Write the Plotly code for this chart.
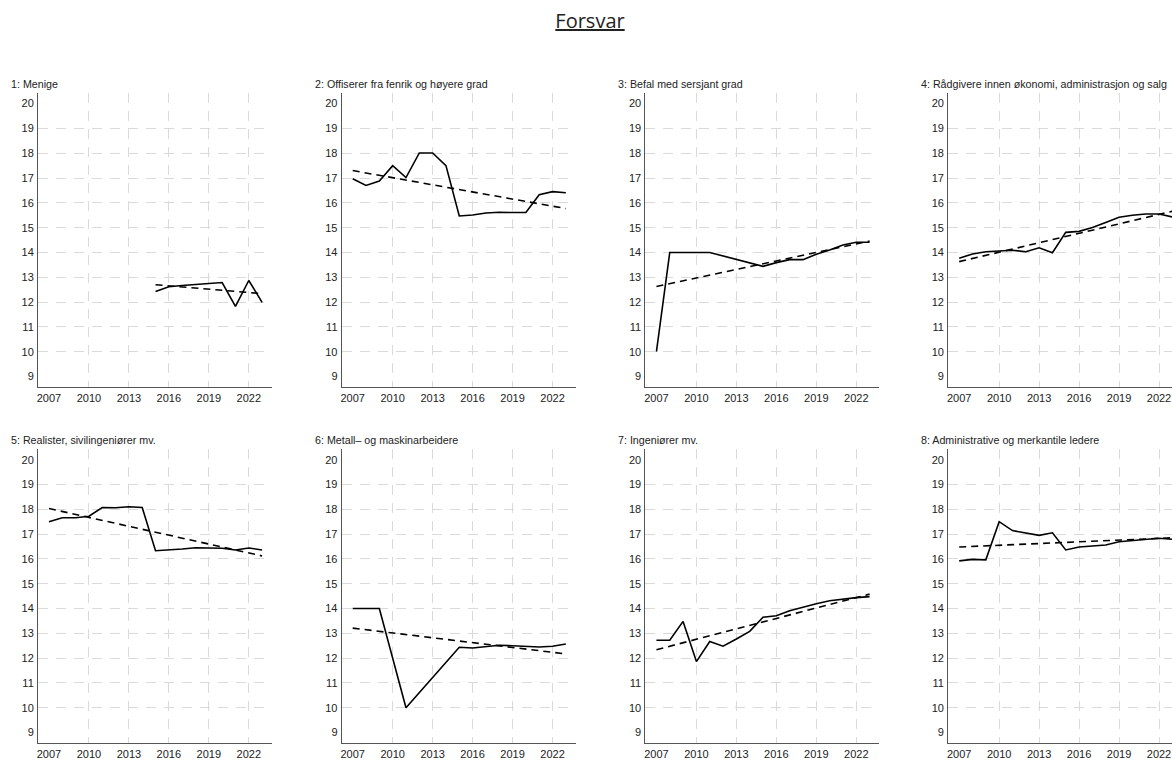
import plotly.graph_objects as go

# ---------------- data ----------------
titles = [
    "1: Menige",
    "2: Offiserer fra fenrik og høyere grad",
    "3: Befal med sersjant grad",
    "4: Rådgivere innen økonomi, administrasjon og salg",
    "5: Realister, sivilingeniører mv.",
    "6: Metall\u2013 og maskinarbeidere",
    "7: Ingeniører mv.",
    "8: Administrative og merkantile ledere",
]

years_1 = [2015, 2016, 2017, 2018, 2019, 2020, 2021, 2022, 2023]
vals_1 = [12.43, 12.62, 12.67, 12.71, 12.74, 12.79, 11.83, 12.87, 11.99]

years_2 = list(range(2007, 2024))
vals_2 = [16.97, 16.70, 16.88, 17.50, 17.02, 18.01, 18.01, 17.50, 15.47,
          15.51, 15.59, 15.62, 15.61, 15.61, 16.33, 16.45, 16.41]

years_3 = [2007, 2008, 2011, 2015, 2016, 2017, 2018, 2019, 2020, 2021, 2022, 2023]
vals_3 = [10.0, 14.0, 14.0, 13.44, 13.59, 13.71, 13.71, 13.93, 14.10, 14.30, 14.41, 14.41]

years_4 = list(range(2007, 2024))
vals_4 = [13.77, 13.94, 14.03, 14.06, 14.09, 14.03, 14.19, 13.99, 14.81,
          14.85, 15.01, 15.21, 15.42, 15.50, 15.55, 15.55, 15.43]

years_5 = list(range(2007, 2024))
vals_5 = [17.50, 17.66, 17.66, 17.72, 18.07, 18.06, 18.10, 18.07, 16.33,
          16.36, 16.40, 16.45, 16.45, 16.43, 16.36, 16.44, 16.36]

years_6 = [2007, 2009, 2011, 2015, 2016, 2017, 2018, 2019, 2020, 2021, 2022, 2023]
vals_6 = [14.0, 14.0, 10.0, 12.44, 12.41, 12.48, 12.52, 12.50, 12.48, 12.45, 12.48, 12.57]

years_7 = list(range(2007, 2024))
vals_7 = [12.72, 12.72, 13.48, 11.86, 12.67, 12.48, 12.77, 13.08, 13.65,
          13.71, 13.91, 14.06, 14.19, 14.31, 14.38, 14.44, 14.48]

years_8 = list(range(2007, 2024))
vals_8 = [15.92, 15.98, 15.96, 17.50, 17.14, 17.05, 16.95, 17.05, 16.36,
          16.48, 16.52, 16.56, 16.69, 16.73, 16.76, 16.83, 16.79]

# dashed trend lines: start year, end year, start value, end value
trend_x0 = [2015, 2007, 2007, 2007, 2007, 2007, 2007, 2007]
trend_x1 = [2023, 2023, 2023, 2023, 2023, 2023, 2023, 2023]
trend_y0 = [12.70, 17.30, 12.63, 13.63, 18.03, 13.21, 12.34, 16.48]
trend_y1 = [12.34, 15.77, 14.46, 15.66, 16.12, 12.17, 14.58, 16.85]

x_ticks = [2007, 2010, 2013, 2016, 2019, 2022]
x_grid = [2010, 2013, 2016, 2019, 2022]
y_ticks = list(range(9, 21))
y_grid = list(range(10, 20))

series_x = [years_1, years_2, years_3, years_4, years_5, years_6, years_7, years_8]
series_y = [vals_1, vals_2, vals_3, vals_4, vals_5, vals_6, vals_7, vals_8]

# ---------------- layout geometry (pixels) ----------------
W, H = 1172, 760
col_left = [37, 341, 645, 948]
plot_w = 234
row_top = [93.3, 451.7]
plot_h = 296.7
px_per_year = 13.333
x_start = 2007 - 11 / px_per_year
y_range = [8.56, 20.44]

fig = go.Figure()
layout_axes = {}
annotations = []

grid_col = "#dadada"
tick_font = dict(family="Liberation Sans, Arial, sans-serif", size=11, color="#222222")

for i in range(8):
    r, c = divmod(i, 4)
    n = i + 1
    xa = "x" if n == 1 else f"x{n}"
    ya = "y" if n == 1 else f"y{n}"
    left = col_left[c]
    right = min(left + plot_w, W)
    x_end = x_start + (right - left) / px_per_year
    top = row_top[r]
    bottom = top + plot_h

    fig.add_trace(go.Scatter(
        x=series_x[i], y=series_y[i], mode="lines",
        line=dict(color="black", width=1.6),
        xaxis=xa, yaxis=ya, showlegend=False, hoverinfo="x+y", cliponaxis=True,
    ))
    fig.add_trace(go.Scatter(
        x=[trend_x0[i], trend_x1[i]], y=[trend_y0[i], trend_y1[i]], mode="lines",
        line=dict(color="black", width=1.6, dash="7px,5px"),
        xaxis=xa, yaxis=ya, showlegend=False, hoverinfo="skip",
    ))

    layout_axes["xaxis" if n == 1 else f"xaxis{n}"] = dict(
        domain=[left / W, right / W],
        range=[x_start, x_end],
        anchor=ya,
        tickmode="array", tickvals=x_ticks, ticktext=[str(v) for v in x_ticks],
        ticks="", ticklabelstandoff=0,
        tickfont=tick_font,
        showgrid=False, zeroline=False,
        showline=True, linecolor="#555555", linewidth=1,
        minor=dict(tickmode="array", tickvals=x_grid, showgrid=True,
                   gridcolor=grid_col, gridwidth=1, griddash="10px,8px", ticks=""),
        fixedrange=True,
    )
    layout_axes["yaxis" if n == 1 else f"yaxis{n}"] = dict(
        domain=[1 - bottom / H, 1 - top / H],
        range=y_range,
        anchor=xa,
        tickmode="array", tickvals=y_ticks, ticktext=[str(v) for v in y_ticks],
        ticks="", ticklabelstandoff=1,
        tickfont=tick_font,
        showgrid=False, zeroline=False,
        showline=True, linecolor="#555555", linewidth=1,
        minor=dict(tickmode="array", tickvals=y_grid, showgrid=True,
                   gridcolor=grid_col, gridwidth=1, griddash="10px,8px", ticks=""),
        fixedrange=True,
    )
    annotations.append(dict(
        text=titles[i], xref="paper", yref="paper",
        x=(left - 29) / W, y=1 - (top - 9) / H,
        xanchor="left", yanchor="middle", showarrow=False,
        font=dict(family="Liberation Sans, Arial, sans-serif", size=10.7, color="#222222"),
    ))

fig.update_layout(
    width=W, height=H,
    margin=dict(l=0, r=0, t=0, b=0),
    paper_bgcolor="white", plot_bgcolor="white",
    title=dict(
        text="Forsvar", x=590 / W, xanchor="center",
        y=1 - 21 / H, yanchor="middle", yref="container",
        font=dict(family="Open Sans, Noto Sans, sans-serif", size=20, color="#222222",
                  lineposition="under"),
    ),
    annotations=annotations,
    **layout_axes,
)

fig.write_html(
    "out.html",
    config={"displayModeBar": False},
    post_script="document.body.style.margin='0';document.body.style.overflow='hidden';",
)
